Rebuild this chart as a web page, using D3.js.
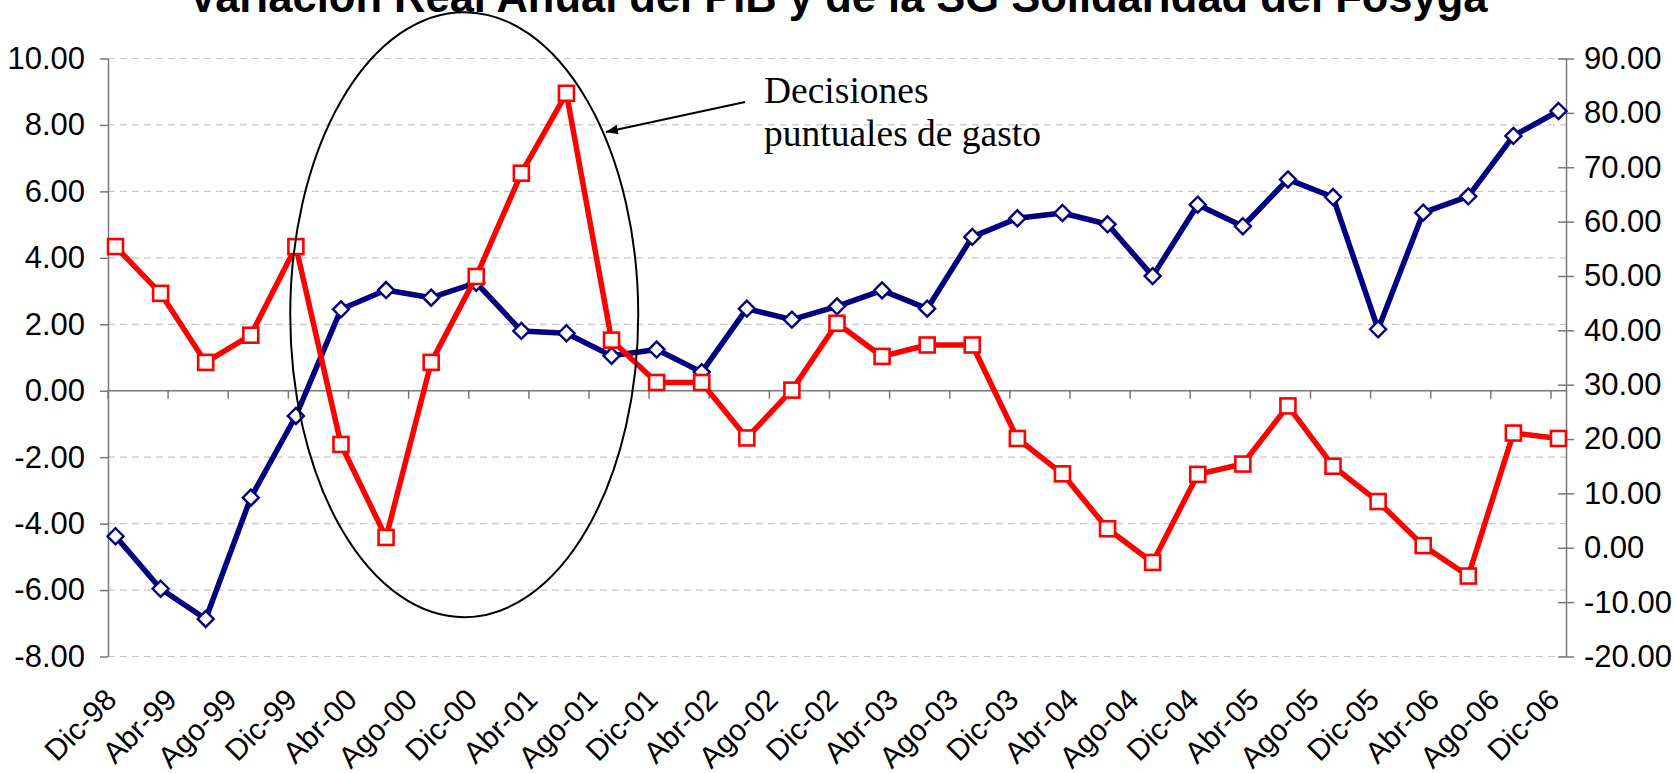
<!DOCTYPE html>
<html>
<head>
<meta charset="utf-8">
<script src="https://cdn.jsdelivr.net/npm/d3@7"></script>
<style>
  body { margin: 0; background: #fff; }
  svg { display: block; }
</style>
</head>
<body>
<svg id="chart" width="1675" height="773"></svg>
<script>
// quarterly observations, Dic-98 .. Dic-06
var quarters = [
  "1998-12",
  "1999-03", "1999-06", "1999-09", "1999-12",
  "2000-03", "2000-06", "2000-09", "2000-12",
  "2001-03", "2001-06", "2001-09", "2001-12",
  "2002-03", "2002-06", "2002-09", "2002-12",
  "2003-03", "2003-06", "2003-09", "2003-12",
  "2004-03", "2004-06", "2004-09", "2004-12",
  "2005-03", "2005-06", "2005-09", "2005-12",
  "2006-03", "2006-06", "2006-09", "2006-12"
]

// PIB, left axis (blue)
var pib = [
  -4.38, -5.96, -6.87, -3.22, -0.76, 2.45, 3.03, 2.80, 3.25, 1.80, 1.73,
  1.05, 1.24, 0.56, 2.47, 2.14, 2.54, 3.02, 2.47, 4.63, 5.19, 5.35,
  5.01, 3.45, 5.60, 4.95, 6.36, 5.83, 1.85, 5.36, 5.85, 7.67, 8.42
]

// SG Solidaridad Fosyga, right axis (red)
var fosyga = [
  55.4, 46.8, 34.1, 39.1, 55.4, 19.0, 1.9, 34.1, 49.9, 68.9, 83.6,
  38.2, 30.4, 30.4, 20.2, 29.0, 41.3, 35.2, 37.3, 37.3, 20.1, 13.6,
  3.5, -2.7, 13.5, 15.4, 26.1, 15.0, 8.5, 0.4, -5.2, 21.1, 20.1
]

// date axis labels, one every 4 months
var tickLabels = [
  "Dic-98", "Abr-99", "Ago-99", "Dic-99", "Abr-00", "Ago-00", "Dic-00",
  "Abr-01", "Ago-01", "Dic-01", "Abr-02", "Ago-02", "Dic-02", "Abr-03",
  "Ago-03", "Dic-03", "Abr-04", "Ago-04", "Dic-04", "Abr-05", "Ago-05",
  "Dic-05", "Abr-06", "Ago-06", "Dic-06"
]
var leftTicks = [-8, -6, -4, -2, 0, 2, 4, 6, 8, 10]
var rightTicks = [-20, -10, 0, 10, 20, 30, 40, 50, 60, 70, 80, 90]

var titleText = "Variación Real Anual del PIB y de la SG Solidaridad del Fosyga"
var noteLines = ["Decisiones", "puntuales de gasto"]

var plotLeft = 108, plotRight = 1566, plotTop = 58.5, plotBottom = 656.5
var sans = "'Liberation Sans', Arial, sans-serif"
var serif = "'Liberation Serif', 'Times New Roman', serif"
var axisColor = "#777"

var fmt = d3.formatLocale({decimal: ".", thousands: ",", grouping: [3], currency: ["", ""], minus: "-"}).format(".2f")

var parseMonth = d3.timeParse("%Y-%m")
var start = parseMonth(quarters[0])
var months = quarters.map(function(q) { return d3.timeMonth.count(start, parseMonth(q)) })
var nMonths = months[months.length - 1] + 1

var x = d3.scaleLinear().domain([0, nMonths]).range([plotLeft, plotRight])
var yL = d3.scaleLinear().domain([-8, 10]).range([plotBottom, plotTop])
var yR = d3.scaleLinear().domain([-20, 90]).range([plotBottom, plotTop])

var svg = d3.select("#chart")

// title (sits partly above the frame, like the original)
svg.append("text")
  .attr("x", 838).attr("y", 12)
  .attr("text-anchor", "middle")
  .style("font-family", sans).style("font-weight", "bold").style("font-size", "43.5px")
  .text(titleText)

// dashed gridlines
svg.append("g").selectAll("line")
  .data(leftTicks.filter(function(d) { return d !== 0 }))
  .enter().append("line")
  .attr("x1", plotLeft).attr("x2", plotRight)
  .attr("y1", function(d) { return yL(d) }).attr("y2", function(d) { return yL(d) })
  .attr("stroke", "#c8c8c8").attr("stroke-width", 1.2).attr("stroke-dasharray", "7,5")

// category axis on the zero line
var zeroY = yL(0)
svg.append("line")
  .attr("x1", plotLeft).attr("x2", plotRight)
  .attr("y1", zeroY).attr("y2", zeroY)
  .attr("stroke", axisColor).attr("stroke-width", 1.5)
svg.append("g").selectAll("line")
  .data(tickLabels)
  .enter().append("line")
  .attr("x1", function(d, i) { return x(i * 4) }).attr("x2", function(d, i) { return x(i * 4) })
  .attr("y1", zeroY).attr("y2", zeroY + 8)
  .attr("stroke", axisColor).attr("stroke-width", 1.5)

svg.append("g").selectAll("text")
  .data(tickLabels)
  .enter().append("text")
  .attr("transform", function(d, i) { return "translate(" + (x(i * 4) + 3) + ",694) rotate(-45)" })
  .attr("text-anchor", "end").attr("dy", "0.35em")
  .style("font-family", sans).style("font-size", "30px")
  .text(function(d) { return d })

// left axis
var gL = svg.append("g")
  .attr("transform", "translate(" + plotLeft + ",0)")
  .call(d3.axisLeft(yL).tickValues(leftTicks).tickSize(8).tickSizeOuter(0).tickPadding(15).tickFormat(fmt))
gL.attr("font-family", null).attr("font-size", null)
gL.selectAll("text").style("font-family", sans).style("font-size", "31px").attr("fill", "#000")
gL.selectAll("line, path").attr("stroke", axisColor).attr("stroke-width", 1.5)

// right axis, crossing ticks
var gR = svg.append("g")
  .attr("transform", "translate(" + plotRight + ",0)")
  .call(d3.axisRight(yR).tickValues(rightTicks).tickSize(8).tickSizeOuter(0).tickPadding(10).tickFormat(fmt))
gR.attr("font-family", null).attr("font-size", null)
gR.selectAll(".tick line").attr("x1", -8).attr("x2", 8)
gR.selectAll("text").style("font-family", sans).style("font-size", "31px").attr("fill", "#000")
gR.selectAll("line, path").attr("stroke", axisColor).attr("stroke-width", 1.5)

// series
var blueData = pib.map(function(v, i) { return {m: months[i], v: v} })
var redData = fosyga.map(function(v, i) { return {m: months[i], v: v} })
var px = function(d) { return x(d.m + 0.5) }

svg.append("path")
  .datum(blueData)
  .attr("fill", "none").attr("stroke", "#000080").attr("stroke-width", 5.5).attr("stroke-linejoin", "round")
  .attr("d", d3.line().x(px).y(function(d) { return yL(d.v) }))
svg.append("g").selectAll("path")
  .data(blueData)
  .enter().append("path")
  .attr("transform", function(d) { return "translate(" + px(d) + "," + yL(d.v) + ")" })
  .attr("d", "M0,-8L8,0L0,8L-8,0Z")
  .attr("fill", "#fff").attr("stroke", "#000080").attr("stroke-width", 2.4)

svg.append("path")
  .datum(redData)
  .attr("fill", "none").attr("stroke", "#ff0000").attr("stroke-width", 5.5).attr("stroke-linejoin", "round")
  .attr("d", d3.line().x(px).y(function(d) { return yR(d.v) }))
svg.append("g").selectAll("rect")
  .data(redData)
  .enter().append("rect")
  .attr("x", function(d) { return px(d) - 7.5 }).attr("y", function(d) { return yR(d.v) - 7.5 })
  .attr("width", 15).attr("height", 15)
  .attr("fill", "#fff").attr("stroke", "#ff0000").attr("stroke-width", 2.6)

// annotation: ellipse round the 2000-2001 spending spike, arrow and note
var ecx = x(23.7), ecy = yL(2.29), erx = 174, ery = 302.5
svg.append("ellipse")
  .attr("cx", ecx).attr("cy", ecy).attr("rx", erx).attr("ry", ery)
  .attr("fill", "none").attr("stroke", "#000").attr("stroke-width", 2)

svg.append("defs").append("marker")
  .attr("id", "head").attr("viewBox", "0 0 10 10")
  .attr("refX", 10).attr("refY", 5)
  .attr("markerWidth", 6).attr("markerHeight", 6)
  .attr("markerUnits", "strokeWidth").attr("orient", "auto")
  .append("path").attr("d", "M0,1L10,5L0,9Z").attr("fill", "#000")

var tipY = 132
var tipX = ecx + erx * Math.sqrt(1 - Math.pow((tipY - ecy) / ery, 2)) + 3
svg.append("line")
  .attr("x1", 745).attr("y1", 102).attr("x2", tipX).attr("y2", tipY)
  .attr("stroke", "#000").attr("stroke-width", 2)
  .attr("marker-end", "url(#head)")

svg.append("g").selectAll("text")
  .data(noteLines)
  .enter().append("text")
  .attr("x", 764).attr("y", function(d, i) { return 102.7 + i * 43.3 })
  .style("font-family", serif).style("font-size", "37.5px")
  .text(function(d) { return d })
</script>
</body>
</html>
